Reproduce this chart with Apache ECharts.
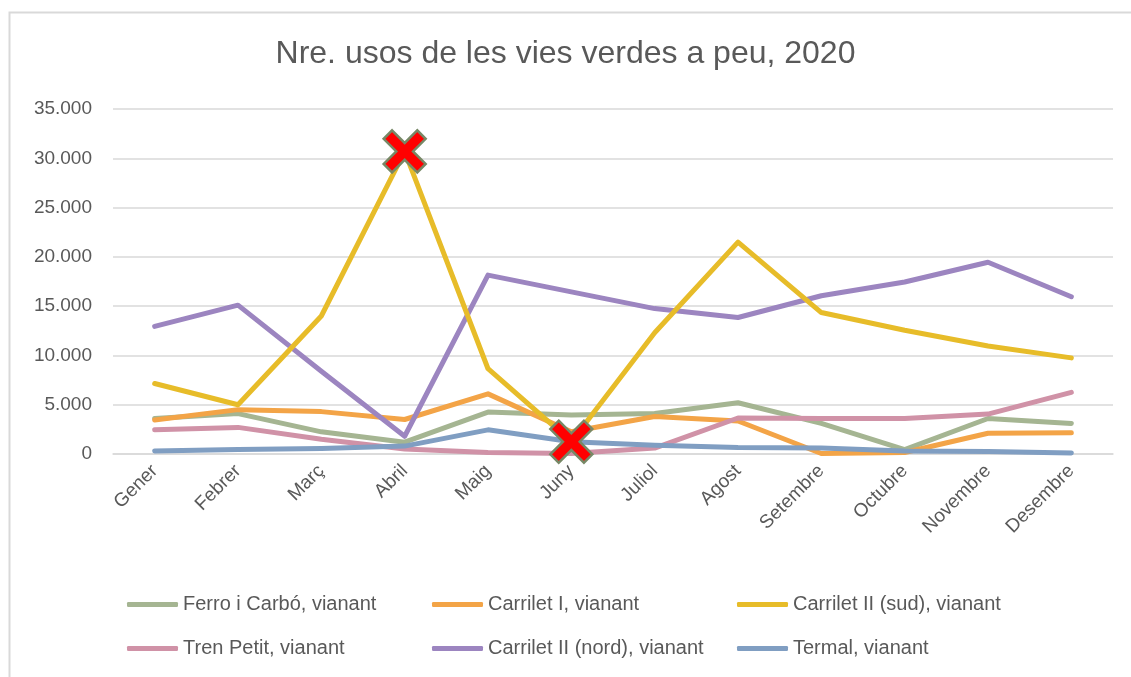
<!DOCTYPE html>
<html>
<head>
<meta charset="utf-8">
<script src="https://cdn.jsdelivr.net/npm/echarts@6/dist/echarts.min.js"></script>
<style>html,body{margin:0;padding:0;background:#fff;}#c{width:1131px;height:677px;}</style>
</head>
<body>
<div id="c"></div>
<script>
const months = ['Gener','Febrer','Març','Abril','Maig','Juny','Juliol','Agost','Setembre','Octubre','Novembre','Desembre'];
const ferroCarbo   = [3600, 4100, 2250, 1200, 4250, 3950, 4100, 5200, 3100, 450, 3600, 3100];
const carriletI    = [3450, 4500, 4300, 3500, 6100, 2250, 3800, 3350, 50, 150, 2100, 2150];
const carriletIISud= [7150, 5000, 14000, 30700, 8650, 1250, 12300, 21500, 14350, 12550, 10950, 9750];
const trenPetit    = [2450, 2700, 1500, 500, 150, 50, 600, 3650, 3600, 3600, 4050, 6250];
const carriletIINord=[12950, 15100, 8400, 1800, 18150, 16450, 14750, 13850, 16050, 17450, 19450, 15950];
const termal       = [300, 450, 550, 800, 2450, 1250, 900, 650, 600, 300, 250, 100];
const seriesNames = ['Ferro i Carbó, vianant','Carrilet I, vianant','Carrilet II (sud), vianant','Tren Petit, vianant','Carrilet II (nord), vianant','Termal, vianant'];
const seriesColors = ['#A5B592','#F3A447','#E7BC29','#D092A7','#9C85C0','#809EC2'];
const markedIdx = [3, 5];

const font = "'Liberation Sans', 'Noto Sans', sans-serif";
const xPath = 'path://M2,0 L5,3 L8,0 L10,2 L7,5 L10,8 L8,10 L5,7 L2,10 L0,8 L3,5 L0,2 Z';

function mk(name, data, color, marked) {
  return {
    name: name, type: 'line', data: data.map((v, i) => marked && markedIdx.indexOf(i) >= 0 ?
      {value: v, symbol: xPath, symbolSize: 42, itemStyle: {color: '#FF0000', borderColor: '#778866', borderWidth: 2.5}} : {value: v}),
    symbol: 'none', showSymbol: true, z: marked ? 3 : 2,
    lineStyle: {color: color, width: 5, cap: 'round', join: 'round'},
    itemStyle: {color: color},
    emphasis: {disabled: true}, animation: false
  };
}
const allData = [ferroCarbo, carriletI, carriletIISud, trenPetit, carriletIINord, termal];
const series = allData.map((d, i) => mk(seriesNames[i], d, seriesColors[i], i === 2));

const chart = echarts.init(document.getElementById('c'));
chart.setOption({
  animation: false,
  graphic: [{type: 'rect', left: 7, top: 10, shape: {width: 1300, height: 900}, style: {fill: 'none', stroke: '#D9D9D9', lineWidth: 2}, silent: true, z: -10}],
  title: {text: 'Nre. usos de les vies verdes a peu, 2020', left: 'center', top: 33,
    textStyle: {fontFamily: font, fontSize: 32, fontWeight: 'normal', color: '#595959'}},
  grid: {left: 113, right: 18, top: 109, bottom: 223, containLabel: false},
  xAxis: {type: 'category', data: months, boundaryGap: true,
    axisLine: {lineStyle: {color: '#D9D9D9', width: 1.5}}, axisTick: {show: false},
    axisLabel: {rotate: 45, interval: 0, margin: 14, color: '#595959', fontFamily: font, fontSize: 19}},
  yAxis: {type: 'value', min: 0, max: 35000, interval: 5000,
    axisLine: {show: false}, axisTick: {show: false},
    splitLine: {lineStyle: {color: '#D9D9D9', width: 1.5}},
    axisLabel: {margin: 21, color: '#595959', fontFamily: font, fontSize: 19,
      formatter: v => v === 0 ? '0' : String(v).replace(/\B(?=(\d{3})+(?!\d))/g, '.')}},
  legend: {data: seriesNames, left: 127, top: 585, width: 960, padding: 0, orient: 'horizontal',
    icon: 'roundRect', itemWidth: 51, itemHeight: 5, itemGap: 5,
    textStyle: {fontFamily: font, fontSize: 20, color: '#595959', width: 244, lineHeight: 39}},
  series: series
});
</script>
</body>
</html>
